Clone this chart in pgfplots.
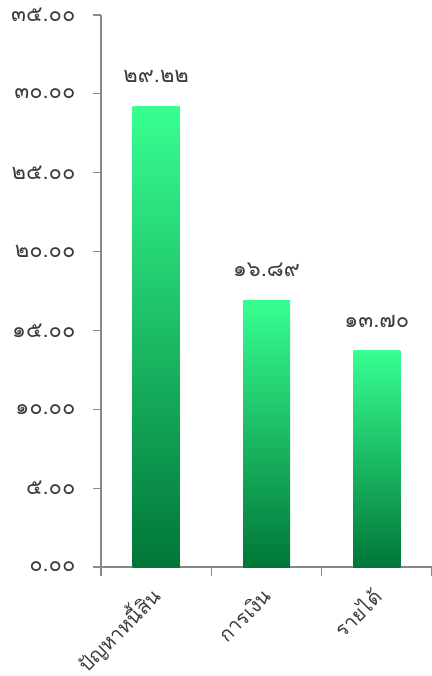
\documentclass[border=0pt]{standalone}
\usepackage{fontspec}
\setmainfont[Script=Thai]{Loma}
\usepackage{pgfplots}
\pgfplotsset{compat=1.18}
\usetikzlibrary{calc}
\definecolor{axgray}{RGB}{137,137,137}
\definecolor{txt}{RGB}{60,60,60}
\definecolor{topg}{RGB}{55,255,145}
\definecolor{botg}{RGB}{0,118,56}
\begin{document}
\begin{tikzpicture}
\begin{axis}[
  name=ax,
  scale only axis,
  width=331bp, height=552bp,
  xmin=0, xmax=3, ymin=0, ymax=35,
  axis lines=left,
  axis line style={-, draw=axgray, line width=1.2pt},
  xtick={0.5,1.5,2.5},
  xticklabels={ปัญหาหนี้สิน, การเงิน, รายได้},
  minor xtick={0,1,2,3},
  major x tick style={draw=none},
  minor x tick style={draw=axgray, line width=1.2pt},
  ytick={0,5,10,15,20,25,30,35},
  yticklabels={๐.๐๐, ๕.๐๐, ๑๐.๐๐, ๑๕.๐๐, ๒๐.๐๐, ๒๕.๐๐, ๓๐.๐๐, ๓๕.๐๐},
  y tick style={draw=axgray, line width=1.2pt},
  tick align=outside,
  major tick length=8bp,
  minor tick length=9bp,
  tick label style={font=\fontsize{22}{26}\selectfont, text=txt},
  xticklabel style={font=\fontsize{20}{24}\selectfont, xshift=3bp, yshift=-15bp, rotate=45, anchor=east},
  yticklabel style={xshift=-14bp},
  nodes near coords,
  point meta=explicit symbolic,
  every node near coord/.append style={font=\fontsize{22}{26}\selectfont, text=txt, yshift=20bp},
]
\addplot[ybar, bar width=47bp, draw=none, top color=topg, bottom color=botg]
  table[meta=lab] {
x y lab
0.5 29.22 ๒๙.๒๒
};
\addplot[ybar, bar width=47bp, draw=none, top color=topg, bottom color=botg]
  table[meta=lab] {
x y lab
1.5 16.89 ๑๖.๘๙
};
\addplot[ybar, bar width=47bp, draw=none, top color=topg, bottom color=botg]
  table[meta=lab] {
x y lab
2.5 13.70 ๑๓.๗๐
};
\end{axis}
\pgfresetboundingbox
\path[use as bounding box] ($(ax.south west)+(-101bp,-109bp)$) rectangle ($(ax.north east)+(0bp,15bp)$);
\end{tikzpicture}
\end{document}
